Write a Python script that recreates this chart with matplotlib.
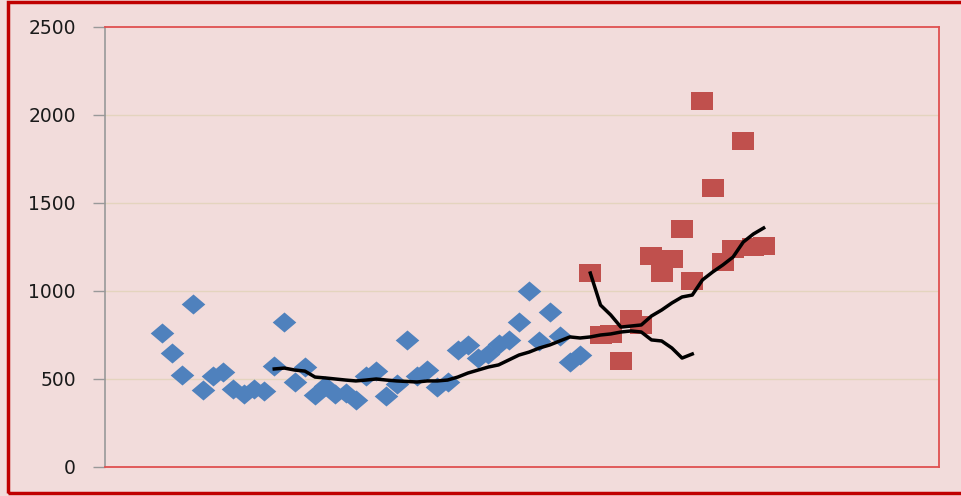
import matplotlib.pyplot as plt
import numpy as np
from matplotlib.patches import Rectangle

################################################################################
# data
################################################################################
blue_vals = [761, 648, 523, 926, 437, 517, 540, 443, 415, 443, 432, 574, 824, 483,
             568, 409, 460, 415, 420, 381, 517, 545, 403, 472, 722, 517, 551, 455,
             483, 665, 693, 619, 642, 699, 722, 824, 1000, 716, 881, 742, 594, 636]
red_vals = [1101, 750, 756, 602, 841, 807, 1199, 1102, 1182, 1354, 1057, 2081,
            1585, 1165, 1239, 1852, 1252, 1256]
avg_long = [557, 562, 551, 545, 511, 506, 500, 494, 489, 494, 500, 494, 489, 486,
            483, 489, 489, 494, 511, 534, 551, 568, 580, 608, 636, 653, 676, 693,
            716, 739, 733, 739, 750, 756, 767, 773, 767, 722, 716, 676, 619, 642]
avg_short = [1102, 920, 864, 795, 801, 807, 858, 892, 932, 966, 977, 1063, 1108,
             1148, 1193, 1278, 1324, 1358]
y_ticks = [0, 500, 1000, 1500, 2000, 2500]

blue_x = np.arange(1, len(blue_vals) + 1)
red_x = np.arange(len(blue_vals) + 1, len(blue_vals) + len(red_vals) + 1)
long_x = np.arange(12, 12 + len(avg_long))
short_x = red_x[:len(avg_short)]

################################################################################
# styling
################################################################################
BG = "#F2DCDB"
BLUE = "#4F81BD"
RED = "#C0504D"

diamond = [(-1, 0), (0, 0.85), (1, 0), (0, -0.85), (-1, 0)]
square = [(-1, -0.86), (1, -0.86), (1, 0.86), (-1, 0.86), (-1, -0.86)]

fig = plt.figure(figsize=(9.61, 4.96), dpi=100, facecolor=BG)
ax = fig.add_axes([105 / 961, 29 / 496, 834 / 961, 440 / 496], facecolor=BG)

# outer chart border
fig.patches.append(Rectangle((8 / 961, 3 / 496), 1.2, 491 / 496, transform=fig.transFigure,
                             fill=False, edgecolor="#C00000", linewidth=2.5))

for y in y_ticks[1:-1]:
    ax.axhline(y, color="#E4D4BE", linewidth=1.0, zorder=0)

ax.plot(blue_x, blue_vals, linestyle="none", marker=diamond, markersize=17,
        color=BLUE, markeredgewidth=0, zorder=2)
ax.plot(red_x, red_vals, linestyle="none", marker=square, markersize=15.5,
        color=RED, markeredgewidth=0, zorder=3)
ax.plot(long_x, avg_long, color="black", linewidth=2.5, zorder=4)
ax.plot(short_x, avg_short, color="black", linewidth=2.5, zorder=4)

ax.set_xlim(-4.6, 77.2)
ax.set_ylim(0, 2500)
ax.set_yticks(y_ticks)
ax.set_yticklabels([str(v) for v in y_ticks], fontsize=13.5, color="#1a1a1a")
ax.set_xticks([])
ax.tick_params(axis="y", length=9, width=1, color="#999999", pad=12)

for side in ["top", "right", "bottom"]:
    ax.spines[side].set_color("#E05050")
    ax.spines[side].set_linewidth(1.3)
ax.spines["left"].set_color("#999999")
ax.spines["left"].set_linewidth(1.2)

fig.savefig("out.png", dpi=100, facecolor=BG)
